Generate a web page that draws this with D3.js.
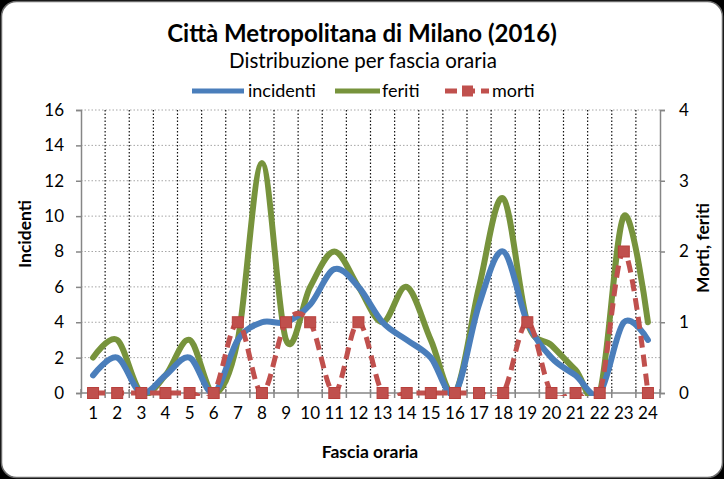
<!DOCTYPE html>
<html><head><meta charset="utf-8">
<script src="https://cdn.jsdelivr.net/npm/d3@7"></script>
<style>html,body{margin:0;padding:0;background:#000;}svg{display:block;}</style>
</head><body>
<script>
const hours = ["1","2","3","4","5","6","7","8","9","10","11","12","13","14","15","16","17","18","19","20","21","22","23","24"];
const incidenti = [1,2,0,1,2,0,3,4,4,5,7,6,4,3,2,0,5,8,4,2,1,0,4,3];
const feriti = [2,3,0,1,3,0,3,13,3,6,8,6,4,6,3,0,6,11,4,2.7,1.3,0,10,4];
const morti = [0,0,0,0,0,0,1,0,1,1,0,1,0,0,0,0,0,0,1,0,0,0,2,0];
const leftTicks = [0,2,4,6,8,10,12,14,16];
const rightTicks = [0,1,2,3,4];
const seriesNames = ["incidenti","feriti","morti"];

const W = 724, H = 479;
const FONT = "Lato, 'Open Sans', sans-serif";
const svg = d3.select("body").append("svg").attr("width", W).attr("height", H);

svg.append("rect").attr("width", W).attr("height", H).attr("fill", "#000");
svg.append("rect").attr("x", 1.5).attr("y", 1.5).attr("width", W - 3).attr("height", H - 3)
  .attr("rx", 15).attr("fill", "#fff").attr("stroke", "#6b6b6b").attr("stroke-width", 1.5);

const x = d3.scaleBand().domain(hours).range([81, 660]).padding(0);
const yL = d3.scaleLinear().domain([0, 16]).range([393, 110]);
const yR = d3.scaleLinear().domain([0, 4]).range([393, 110]);
const cx = h => x(h) + x.bandwidth() / 2;

svg.append("defs").append("clipPath").attr("id", "plotclip")
  .append("rect").attr("x", 60).attr("y", 100).attr("width", 620).attr("height", 296);

// horizontal grid
svg.append("g").selectAll("line").data(leftTicks.filter(d => d > 0)).join("line")
  .attr("x1", 81).attr("x2", 660).attr("y1", d => yL(d)).attr("y2", d => yL(d))
  .attr("stroke", "#a6a6a6").attr("stroke-width", 1).attr("stroke-dasharray", "1.5,2");
// vertical grid at band boundaries
svg.append("g").selectAll("line").data(hours.slice(1)).join("line")
  .attr("x1", d => x(d)).attr("x2", d => x(d)).attr("y1", 110).attr("y2", 393)
  .attr("stroke", "#111").attr("stroke-width", 1.2).attr("stroke-dasharray", "1.5,2");

// axes
const axisColor = "#868686";
const gL = svg.append("g").attr("transform", "translate(81,0)")
  .call(d3.axisLeft(yL).tickValues(leftTicks).tickSize(5).tickPadding(12).tickFormat(d3.format("d")));
const gR = svg.append("g").attr("transform", "translate(660,0)")
  .call(d3.axisRight(yR).tickValues(rightTicks).tickSize(5).tickPadding(14).tickFormat(d3.format("d")));
const gX = svg.append("g").attr("transform", "translate(0,393)")
  .call(d3.axisBottom(x).tickSize(0).tickPadding(14));
[gL, gR, gX].forEach(g => {
  g.select(".domain").attr("stroke", axisColor).attr("stroke-width", 1.5);
  g.selectAll(".tick line").attr("stroke", axisColor).attr("stroke-width", 1.5);
  g.selectAll("text").attr("fill", "#000").style("font-family", FONT).style("font-size", "17px");
});
gX.select(".domain").remove();
svg.append("line").attr("x1", 81).attr("x2", 660).attr("y1", 393).attr("y2", 393)
  .attr("stroke", axisColor).attr("stroke-width", 1.5);
// x ticks at boundaries
const bounds = hours.map(h => x(h)).concat([x(hours[hours.length - 1]) + x.bandwidth()]);
svg.append("g").selectAll("line").data(bounds).join("line")
  .attr("x1", d => d).attr("x2", d => d).attr("y1", 389).attr("y2", 398)
  .attr("stroke", axisColor).attr("stroke-width", 1.5);

// lines
const curve = d3.curveCatmullRom.alpha(0);
const lineL = d3.line().x((d, i) => cx(hours[i])).y(d => yL(d)).curve(curve);
const lineR = d3.line().x((d, i) => cx(hours[i])).y(d => yR(d)).curve(curve);
const blue = "#4a7ebb", green = "#77933c", red = "#c0504d";

const plot = svg.append("g").attr("clip-path", "url(#plotclip)");
plot.append("path").attr("d", lineL(feriti)).attr("fill", "none").attr("stroke", green)
  .attr("stroke-width", 6).attr("stroke-linecap", "round");
plot.append("path").attr("d", lineL(incidenti)).attr("fill", "none").attr("stroke", blue)
  .attr("stroke-width", 6).attr("stroke-linecap", "round");
plot.append("path").attr("d", lineR(morti)).attr("fill", "none").attr("stroke", red)
  .attr("stroke-width", 5).attr("stroke-dasharray", "12,7");
svg.append("g").selectAll("rect").data(morti).join("rect")
  .attr("x", (d, i) => cx(hours[i]) - 5.5).attr("y", d => yR(d) - 5.5)
  .attr("width", 11).attr("height", 11).attr("fill", red).attr("stroke", "#b8403c").attr("stroke-width", 1);

// titles
svg.append("text").attr("x", 362).attr("y", 42).attr("text-anchor", "middle")
  .style("font-family", FONT).style("font-weight", "bold").style("font-size", "24px")
  .text("Città Metropolitana di Milano (2016)");
svg.append("text").attr("x", 363).attr("y", 68).attr("text-anchor", "middle")
  .style("font-family", FONT).style("font-size", "20.5px")
  .text("Distribuzione per fascia oraria");

// legend
const leg = svg.append("g");
const legY = 91;
const legFont = "18px";
leg.append("line").attr("x1", 192).attr("x2", 244).attr("y1", legY).attr("y2", legY)
  .attr("stroke", blue).attr("stroke-width", 5);
leg.append("text").attr("x", 248).attr("y", legY + 6).style("font-family", FONT).style("font-size", legFont).text(seriesNames[0]);
leg.append("line").attr("x1", 335).attr("x2", 380).attr("y1", legY).attr("y2", legY)
  .attr("stroke", green).attr("stroke-width", 5);
leg.append("text").attr("x", 382).attr("y", legY + 6).style("font-family", FONT).style("font-size", legFont).text(seriesNames[1]);
leg.append("line").attr("x1", 445).attr("x2", 489).attr("y1", legY).attr("y2", legY)
  .attr("stroke", red).attr("stroke-width", 5).attr("stroke-dasharray", "12,6");
leg.append("rect").attr("x", 462).attr("y", legY - 5.5).attr("width", 11).attr("height", 11).attr("fill", red);
leg.append("text").attr("x", 492).attr("y", legY + 6).style("font-family", FONT).style("font-size", legFont).text(seriesNames[2]);

// axis titles
svg.append("text").attr("transform", "translate(31,234) rotate(-90)").attr("text-anchor", "middle")
  .style("font-family", FONT).style("font-weight", "bold").style("font-size", "17.5px").text("Incidenti");
svg.append("text").attr("transform", "translate(709,248) rotate(-90)").attr("text-anchor", "middle")
  .style("font-family", FONT).style("font-weight", "bold").style("font-size", "17.5px").text("Morti, feriti");
svg.append("text").attr("x", 370).attr("y", 458).attr("text-anchor", "middle")
  .style("font-family", FONT).style("font-weight", "bold").style("font-size", "17.5px").text("Fascia oraria");
</script>
</body></html>
